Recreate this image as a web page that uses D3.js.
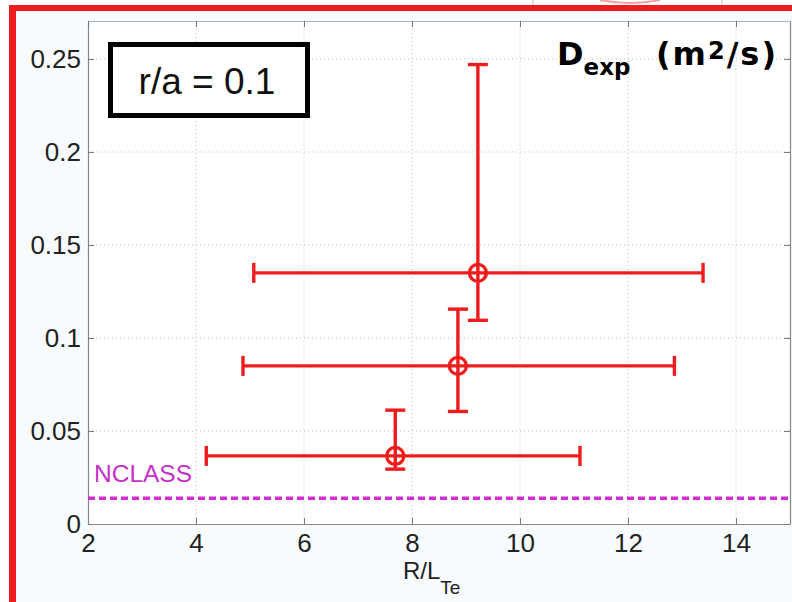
<!DOCTYPE html>
<html>
<head>
<meta charset="utf-8">
<script src="https://cdn.jsdelivr.net/npm/d3@7"></script>
<style>
  body { margin: 0; background: #fff; }
  svg { display: block; font-family: "Liberation Sans", Arial, sans-serif; }
</style>
</head>
<body>
<svg id="chart" width="792" height="602"></svg>
<script>
// data
const rLte = [9.22, 8.85, 7.69]
const rLteLow = [5.07, 4.87, 4.19]
const rLteHigh = [13.39, 12.86, 11.11]
const dExp = [0.135, 0.085, 0.0366]
const dExpLow = [0.1095, 0.0605, 0.0295]
const dExpHigh = [0.247, 0.1155, 0.0612]
const nclass = 0.0138
const xTicks = [2, 4, 6, 8, 10, 12, 14]
const yTicks = [0, 0.05, 0.1, 0.15, 0.2, 0.25]

const points = rLte.map((x, i) => ({
  x: x, xl: rLteLow[i], xh: rLteHigh[i],
  y: dExp[i], yl: dExpLow[i], yh: dExpHigh[i]
}))

const svg = d3.select("#chart")
const red = "#ee1c1c"

// slide background inside the red frame
svg.append("rect").attr("x", 12).attr("y", 8).attr("width", 780).attr("height", 594)
  .attr("fill", "#f8fbfd")

// bits of the slide above the frame
svg.append("line").attr("x1", 533).attr("x2", 533).attr("y1", 0).attr("y2", 6)
  .attr("stroke", "#bbb").attr("stroke-width", 1)
svg.append("line").attr("x1", 722).attr("x2", 722).attr("y1", 0).attr("y2", 6)
  .attr("stroke", "#bbb").attr("stroke-width", 1)
svg.append("path").attr("d", "M600,0 Q630,6 660,0")
  .attr("fill", "none").attr("stroke", "#f3a0a0").attr("stroke-width", 2)

// red frame
svg.append("line").attr("x1", 9).attr("x2", 792).attr("y1", 8).attr("y2", 8)
  .attr("stroke", red).attr("stroke-width", 6)
svg.append("line").attr("x1", 12.5).attr("x2", 12.5).attr("y1", 5).attr("y2", 602)
  .attr("stroke", red).attr("stroke-width", 7)

const pLeft = 88, pRight = 790, pTop = 21, pBottom = 524

const x = d3.scaleLinear().domain([2, 15]).range([pLeft, pRight])
const y = d3.scaleLinear().domain([0, 0.2704]).range([pBottom, pTop])

svg.append("rect").attr("x", pLeft).attr("y", pTop)
  .attr("width", pRight - pLeft).attr("height", pBottom - pTop).attr("fill", "#fff")

// grid
const grid = svg.append("g")
grid.selectAll(".gx").data(xTicks.slice(1)).enter().append("line")
  .attr("x1", (d) => x(d)).attr("x2", (d) => x(d))
  .attr("y1", pTop).attr("y2", pBottom)
  .attr("stroke", "#bdbdbd").attr("stroke-dasharray", "1,3")
grid.selectAll(".gy").data(yTicks.slice(1)).enter().append("line")
  .attr("x1", pLeft).attr("x2", pRight)
  .attr("y1", (d) => y(d)).attr("y2", (d) => y(d))
  .attr("stroke", "#bdbdbd").attr("stroke-dasharray", "1,3")

// axes
const xAxis = svg.append("g").attr("transform", `translate(0,${pBottom})`)
  .call(d3.axisBottom(x).tickValues(xTicks).tickFormat(d3.format("d"))
    .tickSizeInner(-6).tickSizeOuter(0).tickPadding(10))
const yAxis = svg.append("g").attr("transform", `translate(${pLeft},0)`)
  .call(d3.axisLeft(y).tickValues(yTicks).tickFormat((d) => d === 0 ? "0" : String(d))
    .tickSizeInner(-6).tickSizeOuter(0).tickPadding(7))
const xTop = svg.append("g").attr("transform", `translate(0,${pTop})`)
  .call(d3.axisTop(x).tickValues(xTicks).tickFormat("").tickSizeInner(-6).tickSizeOuter(0))
const yRight = svg.append("g").attr("transform", `translate(${pRight},0)`)
  .call(d3.axisRight(y).tickValues(yTicks).tickFormat("").tickSizeInner(-6).tickSizeOuter(0))
for (const ax of [xAxis, yAxis, xTop, yRight]) {
  ax.select(".domain").attr("stroke", "#888").attr("stroke-width", 1.2)
  ax.selectAll(".tick line").attr("stroke", "#777")
  ax.selectAll("text").attr("font-size", 26).attr("fill", "#222")
    .attr("font-family", "Liberation Sans, Arial, sans-serif")
}
xTop.select(".domain").attr("stroke", "#9bb8bd")
xAxis.selectAll("text").attr("dy", "0.71em")

// NCLASS line
svg.append("line").attr("x1", pLeft).attr("x2", pRight)
  .attr("y1", y(nclass)).attr("y2", y(nclass))
  .attr("stroke", "#d42bd4").attr("stroke-width", 3.5).attr("stroke-dasharray", "7,4")
svg.append("text").attr("x", 94).attr("y", 482)
  .attr("font-size", 24.5).attr("fill", "#c82ec8").text("NCLASS")

// error bars
const eb = svg.append("g").attr("stroke", red).attr("stroke-width", 3.4).attr("fill", "none")
const cap = 10
eb.selectAll(".hx").data(points).enter().append("line")
  .attr("x1", (d) => x(d.xl)).attr("x2", (d) => x(d.xh))
  .attr("y1", (d) => y(d.y)).attr("y2", (d) => y(d.y))
eb.selectAll(".vy").data(points).enter().append("line")
  .attr("x1", (d) => x(d.x)).attr("x2", (d) => x(d.x))
  .attr("y1", (d) => y(d.yl)).attr("y2", (d) => y(d.yh))
for (const key of ["xl", "xh"]) {
  eb.selectAll(".c" + key).data(points).enter().append("line")
    .attr("x1", (d) => x(d[key])).attr("x2", (d) => x(d[key]))
    .attr("y1", (d) => y(d.y) - cap).attr("y2", (d) => y(d.y) + cap)
}
for (const key of ["yl", "yh"]) {
  eb.selectAll(".c" + key).data(points).enter().append("line")
    .attr("x1", (d) => x(d.x) - cap).attr("x2", (d) => x(d.x) + cap)
    .attr("y1", (d) => y(d[key])).attr("y2", (d) => y(d[key]))
}
// circle markers
eb.selectAll(".m").data(points).enter().append("circle")
  .attr("cx", (d) => x(d.x)).attr("cy", (d) => y(d.y)).attr("r", 8.5)

// r/a box
svg.append("rect").attr("x", 110.5).attr("y", 44.5).attr("width", 197).attr("height", 71)
  .attr("fill", "#fff").attr("stroke", "#000").attr("stroke-width", 5)
svg.append("text").attr("x", 207).attr("y", 94).attr("text-anchor", "middle")
  .attr("font-size", 37).attr("fill", "#111").text("r/a = 0.1")

// title
const t1 = svg.append("text").attr("x", 557).attr("y", 65)
  .attr("font-family", "DejaVu Sans, sans-serif").attr("font-weight", "bold")
  .attr("font-size", 32).attr("fill", "#000")
t1.append("tspan").text("D")
t1.append("tspan").attr("font-size", 23).attr("dy", 10).text("exp")
const t2 = svg.append("text").attr("x", 778).attr("y", 65).attr("text-anchor", "end")
  .attr("font-family", "DejaVu Sans, sans-serif").attr("font-weight", "bold")
  .attr("font-size", 32).attr("fill", "#000").attr("letter-spacing", 2)
t2.append("tspan").text("(m")
t2.append("tspan").attr("font-size", 24).attr("dy", -6).text("2")
t2.append("tspan").attr("dy", 6).text("/s)")

// x label
const xl = svg.append("text").attr("x", 403).attr("y", 579)
  .attr("font-size", 24).attr("fill", "#222")
xl.append("tspan").text("R/L")
xl.append("tspan").attr("font-size", 19).attr("dy", 15).text("Te")
</script>
</body>
</html>
